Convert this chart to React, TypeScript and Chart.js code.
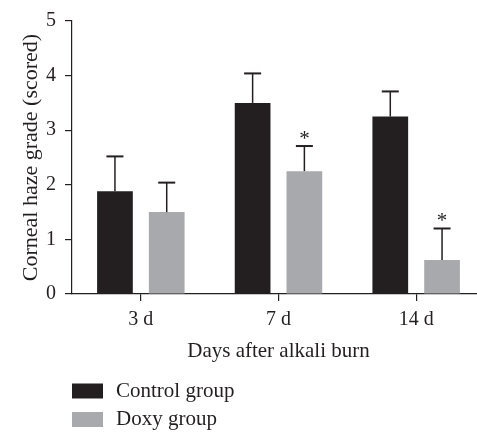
import React, { useEffect, useRef } from "react";
import { Chart, registerables } from "chart.js";

Chart.register(...registerables);

const categories = ["3 d", "7 d", "14 d"];
const seriesNames = ["Control group", "Doxy group"];
const controlValues = [1.88, 3.5, 3.25];
const controlErrors = [0.64, 0.54, 0.46];
const doxyValues = [1.5, 2.25, 0.625];
const doxyErrors = [0.54, 0.46, 0.575];
const controlMarks = ["", "", ""];
const doxyMarks = ["", "*", "*"];
const yTicks = [0, 1, 2, 3, 4, 5];

const FONT = "'Liberation Serif', 'Times New Roman', serif";
const INK = "#231f20";
const GRAY = "#a7a9ac";

const errorBarPlugin = {
  id: "errorBars",
  afterDatasetsDraw(chart: any) {
    const ctx = chart.ctx;
    const y = chart.scales.y;
    chart.data.datasets.forEach((ds: any, i: number) => {
      const meta = chart.getDatasetMeta(i);
      meta.data.forEach((bar: any, j: number) => {
        const top = y.getPixelForValue(ds.data[j] + ds.errors[j]);
        ctx.save();
        ctx.strokeStyle = INK;
        ctx.lineWidth = 1.5;
        ctx.beginPath();
        ctx.moveTo(bar.x, bar.y);
        ctx.lineTo(bar.x, top);
        ctx.stroke();
        ctx.lineWidth = 2;
        ctx.beginPath();
        ctx.moveTo(bar.x - 8.5, top);
        ctx.lineTo(bar.x + 8.5, top);
        ctx.stroke();
        const mark = ds.marks[j];
        if (mark) {
          ctx.fillStyle = INK;
          ctx.font = `21px ${FONT}`;
          ctx.textAlign = "center";
          ctx.textBaseline = "middle";
          ctx.fillText(mark, bar.x, top - 7);
        }
        ctx.restore();
      });
    });
  },
};

const legendPlugin = {
  id: "customLegend",
  afterDraw(chart: any) {
    const ctx = chart.ctx;
    const left = chart.chartArea.left;
    const rows = [chart.height - 41, chart.height - 12.5];
    ctx.save();
    chart.data.datasets.forEach((ds: any, i: number) => {
      const cy = rows[i];
      ctx.fillStyle = ds.backgroundColor;
      ctx.fillRect(left, cy - 7.5, 31, 15);
      ctx.fillStyle = INK;
      ctx.font = `21px ${FONT}`;
      ctx.textAlign = "left";
      ctx.textBaseline = "middle";
      ctx.fillText(ds.label, left + 44, cy);
    });
    ctx.restore();
  },
};

export default function App() {
  const ref = useRef<HTMLCanvasElement | null>(null);

  useEffect(() => {
    if (!ref.current) return;
    const chart = new Chart(ref.current, {
      type: "bar",
      data: {
        labels: categories,
        datasets: [
          {
            label: seriesNames[0],
            data: controlValues,
            errors: controlErrors,
            marks: controlMarks,
            backgroundColor: INK,
          } as any,
          {
            label: seriesNames[1],
            data: doxyValues,
            errors: doxyErrors,
            marks: doxyMarks,
            backgroundColor: GRAY,
          } as any,
        ],
      },
      options: {
        responsive: false,
        animation: false,
        devicePixelRatio: 1,
        categoryPercentage: 0.752,
        barPercentage: 0.69,
        layout: { padding: { top: 19, right: 0, bottom: 68, left: 0 } },
        plugins: {
          legend: { display: false },
          tooltip: { enabled: false },
        },
        scales: {
          x: {
            grid: {
              offset: false,
              drawOnChartArea: false,
              tickLength: 7,
              color: INK,
              lineWidth: 1.2,
            },
            border: { color: INK, width: 1.2 },
            ticks: {
              font: { family: FONT, size: 20 },
              color: INK,
              padding: 7,
            },
            title: {
              display: true,
              text: "Days after alkali burn",
              font: { family: FONT, size: 21 },
              color: INK,
              padding: { top: 4, bottom: 0 },
            },
            afterFit: (s: any) => {
              s.height = 70;
            },
          },
          y: {
            min: 0,
            max: 5,
            afterBuildTicks: (s: any) => {
              s.ticks = yTicks.map((v) => ({ value: v }));
            },
            grid: {
              drawOnChartArea: false,
              tickLength: 7,
              color: INK,
              lineWidth: 1.2,
            },
            border: { color: INK, width: 1.2 },
            ticks: {
              font: { family: FONT, size: 20 },
              color: INK,
              padding: 9,
            },
            title: {
              display: true,
              text: "Corneal haze grade (scored)",
              font: { family: FONT, size: 22 },
              color: INK,
              padding: { top: 18, bottom: 0 },
            },
            afterFit: (s: any) => {
              s.width = 72;
            },
          },
        },
      },
      plugins: [errorBarPlugin, legendPlugin],
    });
    return () => chart.destroy();
  }, []);

  return (
    <div
      style={{
        position: "fixed",
        left: 0,
        top: 0,
        width: 477,
        height: 432,
        overflow: "hidden",
        background: "#fff",
      }}
    >
      <canvas ref={ref} width={485} height={432} />
    </div>
  );
}
